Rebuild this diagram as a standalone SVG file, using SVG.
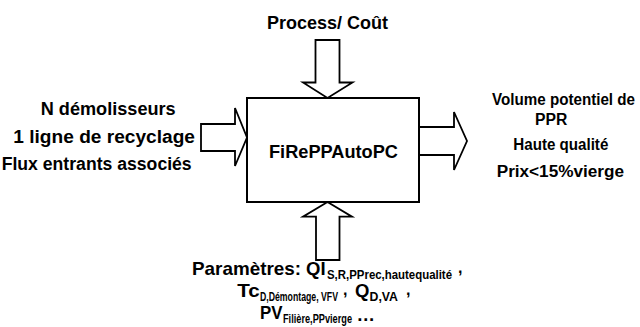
<svg xmlns="http://www.w3.org/2000/svg" width="640" height="327" viewBox="0 0 640 327">
<style>
text{font-family:"Liberation Sans",Arial,sans-serif;font-weight:bold;fill:#000}
.arr{fill:#fff;stroke:#000;stroke-width:1.8;stroke-linejoin:miter}
.box{fill:#fff;stroke:#000;stroke-width:2}
.t18{font-size:18px}
.t16{font-size:16px}
.m{font-size:18.5px}
.s{font-size:12px}
</style>
<rect width="640" height="327" fill="#fff"/>
<g id="connectors">
<polygon class="arr" points="315.5,40 339.5,40 339.5,82.5 352.5,82.5 327.5,98 303,82.5 315.5,82.5"/>
<polygon class="arr" points="327.5,202 352,216.7 339.5,216.7 339.5,260 316,260 316,216.7 303,216.7"/>
<polygon class="arr" points="201,124 235,124 235,108 247,137.5 235,166 235,151 201,151"/>
<polygon class="arr" points="419,127 454,127 454,112 467,141 454,170 454,155 419,155"/>
</g>
<g id="node-main">
<rect class="box" x="247" y="98" width="172" height="104"/>
<text class="t18" x="333.5" y="158" text-anchor="middle" textLength="129" lengthAdjust="spacingAndGlyphs">FiRePPAutoPC</text>
</g>
<g id="node-top">
<text class="t18" x="327.5" y="28.5" text-anchor="middle" textLength="121" lengthAdjust="spacingAndGlyphs">Process/ Coût</text>
</g>
<g id="node-left">
<text class="t18" x="40.7" y="115" textLength="135" lengthAdjust="spacingAndGlyphs">N démolisseurs</text>
<text class="t18" x="13.3" y="143" textLength="181.7" lengthAdjust="spacingAndGlyphs">1 ligne de recyclage</text>
<text class="t18" x="1.7" y="170" textLength="190" lengthAdjust="spacingAndGlyphs">Flux entrants associés</text>
</g>
<g id="node-right">
<text class="t16" x="492" y="105" textLength="143" lengthAdjust="spacingAndGlyphs">Volume potentiel de</text>
<text class="t16" x="535" y="125" textLength="32.3" lengthAdjust="spacingAndGlyphs">PPR</text>
<text class="t16" x="513.3" y="150" textLength="95" lengthAdjust="spacingAndGlyphs">Haute qualité</text>
<text class="t16" x="496.7" y="176.7" textLength="127.3" lengthAdjust="spacingAndGlyphs">Prix&lt;15%vierge</text>
</g>
<g id="node-bottom">
<text class="m" x="192" y="275" textLength="109" lengthAdjust="spacingAndGlyphs">Paramètres:</text>
<text class="m" x="306" y="275">QI</text>
<text class="s" x="327" y="279" textLength="125" lengthAdjust="spacingAndGlyphs">S,R,PPrec,hautequalité</text>
<text class="t16" x="458" y="273">,</text>
<text class="m" x="237.3" y="296.5" textLength="22.5" lengthAdjust="spacingAndGlyphs">Tc</text>
<text class="s" x="260" y="300.5" textLength="78" lengthAdjust="spacingAndGlyphs">D,Démontage, VFV</text>
<text class="t16" x="343" y="294.5">,</text>
<text class="m" x="355" y="296.5">Q</text>
<text class="s" x="369.5" y="300.5" textLength="28.5" lengthAdjust="spacingAndGlyphs">D,VA</text>
<text class="t16" x="406" y="294.5">,</text>
<text class="m" x="260" y="319" textLength="22.5" lengthAdjust="spacingAndGlyphs">PV</text>
<text class="s" x="283" y="323" textLength="69" lengthAdjust="spacingAndGlyphs">Filière,PPvierge</text>
<text class="m" x="356.5" y="321">…</text>
</g>
</svg>
